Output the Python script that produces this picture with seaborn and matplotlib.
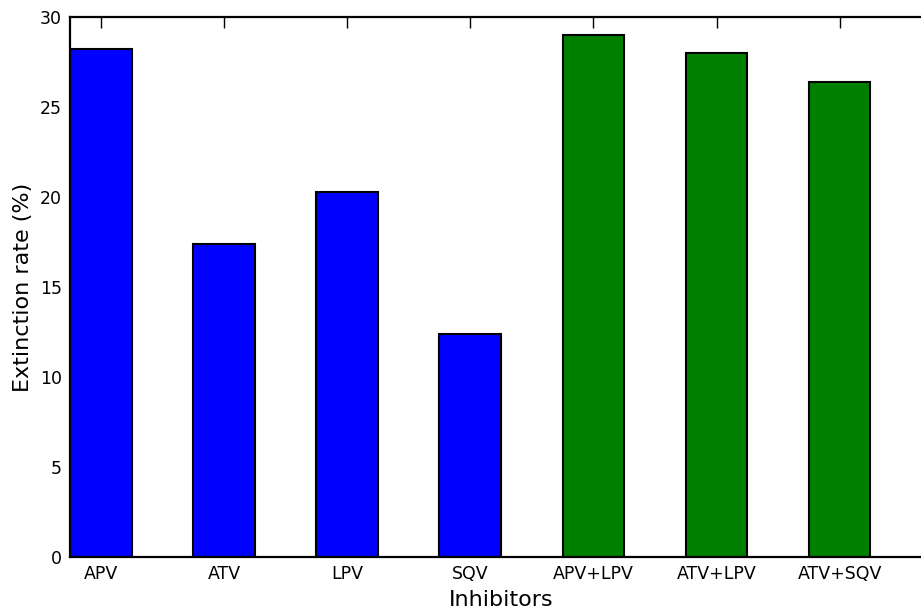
import matplotlib
matplotlib.use("Agg")
import matplotlib.pyplot as plt
import seaborn as sns
import pandas as pd

categories = ["APV", "ATV", "LPV", "SQV", "APV+LPV", "ATV+LPV", "ATV+SQV"]
values = [28.2, 17.4, 20.3, 12.4, 29.0, 28.0, 26.4]
groups = ["single", "single", "single", "single", "combo", "combo", "combo"]
palette = {"single": "#0000ff", "combo": "#008000"}

df = pd.DataFrame({"Inhibitors": categories, "rate": values, "group": groups})

sns.set_style("white")
plt.rcParams["font.family"] = ["DejaVu Sans"]
plt.rcParams["text.color"] = "black"
plt.rcParams["axes.labelcolor"] = "black"
plt.rcParams["xtick.color"] = "black"
plt.rcParams["ytick.color"] = "black"

fig = plt.figure(figsize=(9.21, 6.09), dpi=100)
ax = fig.add_axes([70 / 921, (609 - 557) / 609, 862 / 921, 540 / 609])

sns.barplot(data=df, x="Inhibitors", y="rate", hue="group", palette=palette,
            dodge=False, width=0.5, edgecolor="black", linewidth=1.5,
            saturation=1, legend=False, ax=ax)

ax.set_xlim(-0.25, 6.75)
ax.set_ylim(0, 30)
ax.set_yticks([0, 5, 10, 15, 20, 25, 30])
ax.set_xlabel("Inhibitors", fontsize=16, labelpad=5)
ax.set_ylabel("Extinction rate (%)", fontsize=16, labelpad=5)
ax.tick_params(axis="both", direction="in", length=8, width=1, top=True, right=True,
               labelsize=12.5, colors="black", pad=6)
for s in ax.spines.values():
    s.set_visible(True)
    s.set_color("black")
    s.set_linewidth(1.6)

fig.savefig("out.png", dpi=100)
